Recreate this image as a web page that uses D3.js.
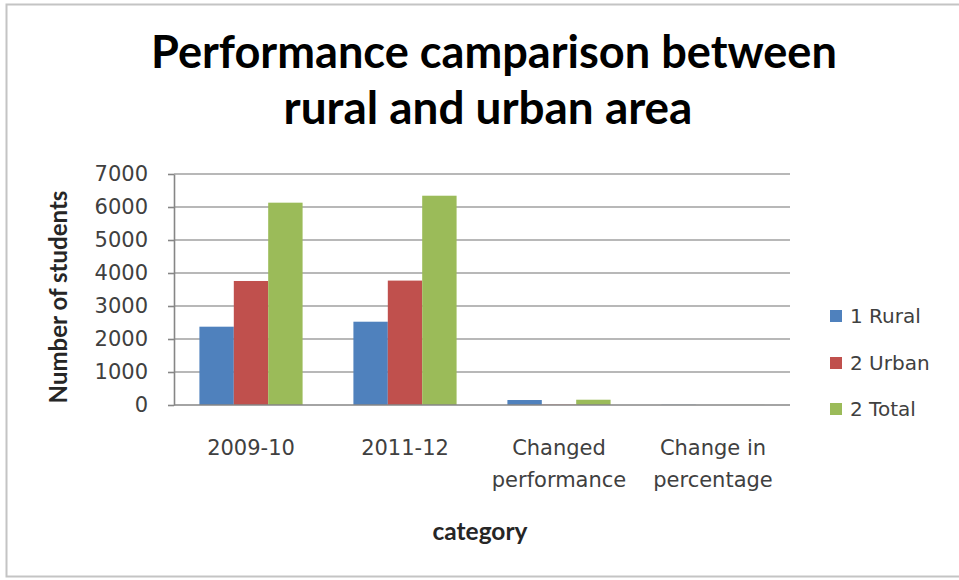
<!DOCTYPE html>
<html>
<head>
<meta charset="utf-8">
<script src="https://cdn.jsdelivr.net/npm/d3@7"></script>
<style>
  html, body { margin: 0; padding: 0; background: #fff; }
  svg { display: block; font-family: "DejaVu Sans", "Liberation Sans", sans-serif; }
</style>
</head>
<body>
<svg id="chart" width="959" height="580"></svg>
<script>
// Student counts by category and area
const categories = ["2009-10", "2011-12", "Changed performance", "Change in percentage"];
const seriesNames = ["1 Rural", "2 Urban", "2 Total"];
const rural = [2373, 2524, 151, 6.4];
const urban = [3758, 3770, 12, 0.3];
const total = [6131, 6342, 160, 3.4];
const yTicks = [0, 1000, 2000, 3000, 4000, 5000, 6000, 7000];
const colors = ["#4F81BD", "#C0504D", "#9BBB59"];

const seriesValues = [rural, urban, total];

const svg = d3.select("#chart");
const W = 959, H = 580;
const bodyFont = "'DejaVu Sans', sans-serif";
const titleFont = "Lato, 'Open Sans', sans-serif";

// chart frame
svg.append("rect")
  .attr("x", 6.5).attr("y", 4.5)
  .attr("width", W + 10).attr("height", 572)
  .attr("fill", "#fff")
  .attr("stroke", "#c4c4c4").attr("stroke-width", 2);

const plot = { left: 174, right: 790, top: 174, bottom: 405 };

const x = d3.scaleBand()
  .domain(categories)
  .range([plot.left, plot.right])
  .paddingInner(0).paddingOuter(0);

const xs = d3.scaleBand()
  .domain(seriesNames)
  .range([x.bandwidth() * 0.165, x.bandwidth() * 0.835])
  .paddingInner(0).paddingOuter(0);

const y = d3.scaleLinear()
  .domain([0, 7000])
  .range([plot.bottom, plot.top]);

// horizontal gridlines
svg.append("g")
  .selectAll("line")
  .data(yTicks.filter(d => d > 0))
  .join("line")
  .attr("x1", plot.left).attr("x2", plot.right)
  .attr("y1", d => y(d)).attr("y2", d => y(d))
  .attr("stroke", "#a0a0a0").attr("stroke-width", 1.6);

// bars
const rows = categories.map((c, i) => ({
  category: c,
  values: seriesNames.map((s, j) => ({ series: s, value: seriesValues[j][i], color: colors[j] }))
}));

svg.append("g")
  .selectAll("g")
  .data(rows)
  .join("g")
  .attr("transform", d => `translate(${x(d.category)},0)`)
  .selectAll("rect")
  .data(d => d.values)
  .join("rect")
  .attr("x", d => xs(d.series))
  .attr("width", xs.bandwidth())
  .attr("y", d => y(d.value))
  .attr("height", d => y(0) - y(d.value))
  .attr("fill", d => d.color);

// y axis
const yAxis = svg.append("g")
  .attr("transform", `translate(${plot.left},0)`)
  .call(d3.axisLeft(y).tickValues(yTicks).tickFormat(d3.format("d"))
    .tickSize(6).tickPadding(20).tickSizeOuter(0));
yAxis.select(".domain").attr("stroke", "#868686").attr("stroke-width", 1.6);
yAxis.selectAll(".tick line").attr("stroke", "#868686").attr("stroke-width", 1.6);
yAxis.selectAll(".tick text")
  .style("font-family", bodyFont)
  .style("font-size", "21px")
  .attr("fill", "#404040");

// x axis baseline
svg.append("line")
  .attr("x1", plot.left).attr("x2", plot.right)
  .attr("y1", y(0)).attr("y2", y(0))
  .attr("stroke", "#868686").attr("stroke-width", 1.6);

// category labels (wrapped onto two lines where needed)
const labelLines = {
  "2009-10": ["2009-10"],
  "2011-12": ["2011-12"],
  "Changed performance": ["Changed", "performance"],
  "Change in percentage": ["Change in", "percentage"]
};
const xl = svg.append("g");
categories.forEach(c => {
  const t = xl.append("text")
    .attr("x", x(c) + x.bandwidth() / 2)
    .attr("y", 455)
    .attr("text-anchor", "middle")
    .style("font-family", bodyFont)
    .style("font-size", "21px")
    .attr("fill", "#404040");
  labelLines[c].forEach((ln, k) => {
    t.append("tspan")
      .attr("x", x(c) + x.bandwidth() / 2)
      .attr("dy", k === 0 ? 0 : 32)
      .text(ln);
  });
});

// scale a text element's font so it spans the given width
function fitWidth(sel, width, start) {
  sel.style("font-size", start + "px");
  const w = sel.node().getComputedTextLength();
  sel.style("font-size", (start * width / w) + "px");
}

// title
const t1 = svg.append("text")
  .attr("x", 494).attr("y", 68)
  .attr("text-anchor", "middle")
  .style("font-family", titleFont)
  .style("font-weight", "bold")
  .attr("fill", "#000")
  .text("Performance camparison between");
fitWidth(t1, 686, 40);
const t2 = svg.append("text")
  .attr("x", 488).attr("y", 124)
  .attr("text-anchor", "middle")
  .style("font-family", titleFont)
  .style("font-weight", "bold")
  .attr("fill", "#000")
  .text("rural and urban area");
fitWidth(t2, 409, 40);

// axis titles
const yt = svg.append("text")
  .attr("transform", "translate(67,297) rotate(-90)")
  .attr("text-anchor", "middle")
  .style("font-family", titleFont)
  .style("font-weight", "bold")
  .attr("fill", "#262626")
  .text("Number of students");
fitWidth(yt, 213, 19);

const xt = svg.append("text")
  .attr("x", 480).attr("y", 540)
  .attr("text-anchor", "middle")
  .style("font-family", titleFont)
  .style("font-weight", "bold")
  .attr("fill", "#262626")
  .text("category");
fitWidth(xt, 95, 20);

// legend
const legendY = [316, 363, 409];
const lg = svg.append("g");
seriesNames.forEach((s, i) => {
  lg.append("rect")
    .attr("x", 830).attr("y", legendY[i] - 6)
    .attr("width", 12).attr("height", 12)
    .attr("fill", colors[i]);
  lg.append("text")
    .attr("x", 850).attr("y", legendY[i])
    .attr("dy", "0.36em")
    .style("font-family", bodyFont)
    .style("font-size", "20px")
    .attr("fill", "#404040")
    .text(s);
});
</script>
</body>
</html>
